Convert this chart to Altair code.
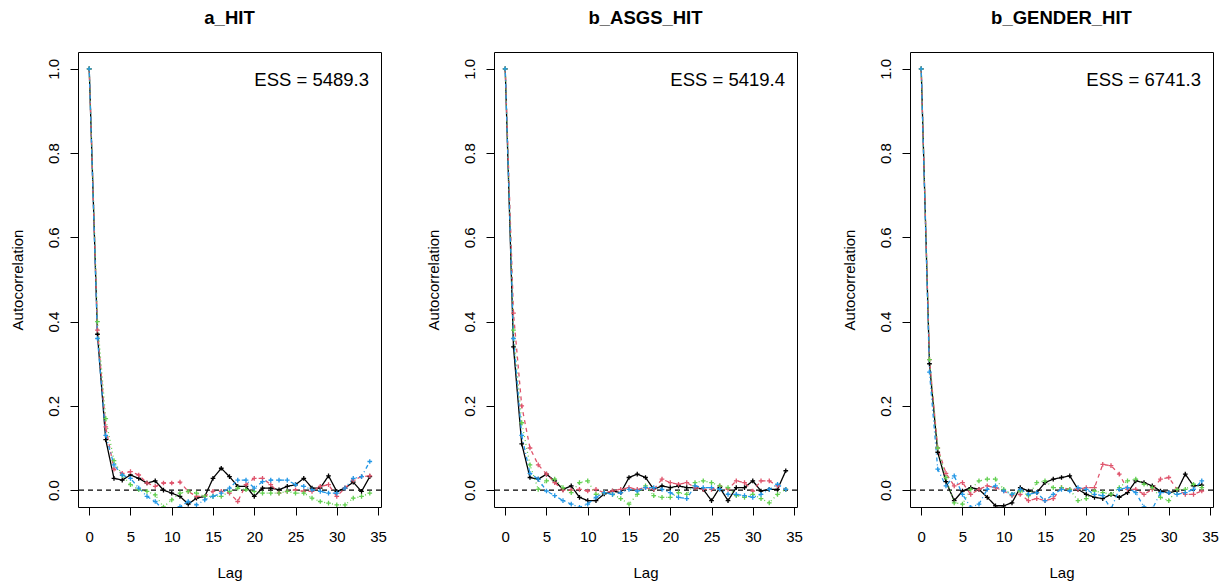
import altair as alt
import pandas as pd

F = "Liberation Sans, Arial, Helvetica, sans-serif"

lags = list(range(35))
chains = ["chain1", "chain2", "chain3", "chain4"]
chain_colors = ["#000000", "#DF536B", "#61D04F", "#2297E6"]
chain_dashes = [[1, 0], [4, 4], [1, 3], [1, 3, 4, 3]]
x_ticks = [0, 5, 10, 15, 20, 25, 30, 35]
y_ticks = [0.0, 0.2, 0.4, 0.6, 0.8, 1.0]

panel_titles = ["a_HIT", "b_ASGS_HIT", "b_GENDER_HIT"]
ess_labels = ["ESS = 5489.3", "ESS = 5419.4", "ESS = 6741.3"]

# a_HIT
a_hit_c1 = [1.0, 0.37, 0.12, 0.028, 0.024, 0.036, 0.028, 0.017, 0.022, 0.0, -0.007, -0.015, -0.033, -0.019, -0.015,
            0.028, 0.052, 0.032, 0.009, 0.009, -0.015, 0.005, 0.005, 0.001, 0.009, 0.013, 0.028, 0.005, 0.005, 0.034,
            -0.003, 0.005, 0.019, -0.003, 0.032]
a_hit_c2 = [1.0, 0.38, 0.15, 0.05, 0.04, 0.044, 0.036, 0.017, 0.009, 0.017, 0.017, 0.019, -0.003, -0.015, -0.015,
            -0.003, -0.003, -0.007, -0.027, 0.013, 0.028, 0.028, 0.013, -0.007, -0.003, 0.001, -0.003, -0.003, 0.009,
            0.013, -0.015, 0.005, 0.024, 0.032, 0.034]
a_hit_c3 = [1.0, 0.4, 0.17, 0.07, 0.035, 0.013, 0.001, -0.003, -0.011, -0.04, -0.023, -0.007, -0.003, -0.007, -0.015,
            -0.015, -0.015, -0.003, 0.005, 0.001, -0.003, -0.007, -0.007, -0.007, -0.003, -0.007, -0.007, -0.019,
            -0.027, -0.031, -0.035, -0.035, -0.019, -0.015, -0.007]
a_hit_c4 = [1.0, 0.36, 0.13, 0.06, 0.036, 0.028, 0.005, -0.015, -0.027, -0.047, -0.047, -0.039, -0.027, -0.035,
            -0.023, -0.015, -0.007, 0.005, 0.024, 0.024, 0.005, 0.02, 0.024, 0.024, 0.024, 0.013, 0.009, 0.001,
            -0.003, -0.007, -0.007, 0.005, 0.028, 0.032, 0.068]

# b_ASGS_HIT
b_asgs_c1 = [1.0, 0.34, 0.11, 0.03, 0.026, 0.038, 0.022, 0.002, 0.01, -0.017, -0.025, -0.025, -0.009, -0.002, -0.006,
             0.03, 0.038, 0.03, 0.002, 0.01, 0.006, 0.01, 0.006, 0.006, 0.002, -0.025, 0.006, -0.025, 0.006, 0.006,
             0.022, -0.002, 0.002, 0.002, 0.046]
b_asgs_c2 = [1.0, 0.42, 0.2, 0.1, 0.06, 0.038, 0.018, 0.0, 0.0, 0.002, -0.002, 0.002, -0.006, -0.002, 0.002, 0.006,
             0.002, 0.006, 0.002, 0.026, 0.018, 0.014, 0.018, 0.006, 0.002, 0.002, 0.01, 0.002, 0.022, 0.018, -0.002,
             0.022, 0.022, 0.01, 0.002]
b_asgs_c3 = [1.0, 0.38, 0.16, 0.06, 0.002, 0.022, 0.026, 0.006, -0.006, 0.018, 0.022, -0.01, -0.006, -0.01, -0.02,
             -0.033, -0.01, 0.01, -0.013, -0.017, -0.017, -0.006, -0.01, 0.018, 0.022, 0.018, 0.01, 0.006, -0.013,
             -0.017, -0.01, -0.02, -0.03, -0.01, 0.002]
b_asgs_c4 = [1.0, 0.36, 0.13, 0.04, 0.026, -0.002, -0.013, -0.025, -0.033, -0.041, -0.033, -0.017, -0.006, -0.01,
             -0.006, 0.002, -0.002, 0.006, 0.006, 0.002, -0.006, -0.017, -0.02, 0.01, 0.006, 0.006, 0.002, -0.01,
             -0.01, -0.013, -0.017, -0.01, 0.002, 0.014, 0.002]

# b_GENDER_HIT
b_gender_c1 = [1.0, 0.30, 0.09, 0.02, -0.025, -0.002, 0.006, 0.002, -0.017, -0.037, -0.037, -0.03, 0.006, -0.002,
               -0.006, 0.018, 0.026, 0.03, 0.034, 0.002, -0.01, -0.017, -0.02, -0.01, -0.017, -0.006, 0.022, 0.018,
               0.01, -0.002, -0.006, -0.002, 0.038, 0.01, 0.012]
b_gender_c2 = [1.0, 0.31, 0.1, 0.04, 0.01, 0.018, -0.01, 0.002, 0.01, 0.006, -0.002, -0.013, -0.01, -0.025, -0.02,
               -0.025, -0.02, 0.006, 0.002, 0.002, 0.006, 0.006, 0.061, 0.058, 0.038, 0.002, 0.002, -0.01, 0.002,
               0.026, 0.03, 0.002, -0.01, -0.01, -0.002]
b_gender_c3 = [1.0, 0.31, 0.1, 0.03, -0.03, -0.033, 0.002, 0.022, 0.026, 0.026, 0.002, -0.01, -0.002, -0.013, 0.018,
               0.022, 0.006, 0.006, 0.002, -0.025, -0.02, -0.002, -0.006, -0.01, 0.006, 0.022, 0.026, 0.014, 0.006,
               -0.017, -0.025, 0.002, 0.002, 0.014, 0.006]
b_gender_c4 = [1.0, 0.28, 0.05, 0.01, 0.034, -0.01, -0.041, -0.033, 0.002, 0.01, -0.002, -0.01, 0.002, -0.01, -0.006,
               -0.025, -0.01, 0.002, -0.002, 0.006, 0.002, -0.01, -0.013, -0.045, 0.002, 0.006, -0.006, -0.04, -0.045,
               -0.006, -0.006, -0.01, -0.006, 0.002, 0.022]

panel_series = [
    [a_hit_c1, a_hit_c2, a_hit_c3, a_hit_c4],
    [b_asgs_c1, b_asgs_c2, b_asgs_c3, b_asgs_c4],
    [b_gender_c1, b_gender_c2, b_gender_c3, b_gender_c4],
]

W = 303
H = 455


def make_panel(title, ess, series):
    rows = []
    for k, (chain, vals) in enumerate(zip(chains, series)):
        for lag, v in zip(lags, vals):
            rows.append({"chain": chain, "order": k, "lag": lag, "ac": v})
    df = pd.DataFrame(rows)

    xs = alt.Scale(domain=[-1.36, 35.36], nice=False, zero=False)
    ys = alt.Scale(domain=[-0.04, 1.04], nice=False, zero=False)

    x_enc = alt.X(
        "lag:Q", scale=xs,
        axis=alt.Axis(values=x_ticks, format="d", title="Lag", domain=False, grid=False,
                      tickSize=8, tickColor="black", tickWidth=1,
                      labelFont=F, labelFontSize=15, labelColor="black",
                      labelBaseline="alphabetic", labelPadding=26, labelFlush=False, labelOverlap=False,
                      titleFont=F, titleFontSize=15, titleFontWeight="normal", titleColor="black",
                      titleBaseline="alphabetic", titleY=70, titleX=W / 2),
    )
    y_enc = alt.Y(
        "ac:Q", scale=ys,
        axis=alt.Axis(values=y_ticks, format=".1f", title="Autocorrelation", domain=False, grid=False,
                      tickSize=8, tickColor="black", tickWidth=1,
                      labelFont=F, labelFontSize=15, labelColor="black",
                      labelAngle=270, labelAlign="center", labelBaseline="alphabetic",
                      labelPadding=12, labelFlush=False, labelOverlap=False,
                      titleFont=F, titleFontSize=15, titleFontWeight="normal", titleColor="black",
                      titleAngle=270, titleBaseline="alphabetic", titleX=-56, titleY=H / 2),
    )
    color = alt.Color("chain:N", scale=alt.Scale(domain=chains, range=chain_colors), legend=None)
    dash = alt.StrokeDash("chain:N", scale=alt.Scale(domain=chains, range=chain_dashes), legend=None)

    base = alt.Chart(df)
    lines = base.mark_line(strokeWidth=1.3, clip=True).encode(
        x=x_enc, y=y_enc, color=color, strokeDash=dash, order="order:Q"
    )
    points = base.mark_point(shape="M-1,0H1M0,-1V1", filled=False, size=22, strokeWidth=1.3,
                             opacity=1, clip=True).encode(
        x="lag:Q", y="ac:Q", color=color
    )
    zero = alt.Chart(pd.DataFrame({"z": [0]})).mark_rule(
        color="black", strokeDash=[5, 4], strokeWidth=1.3
    ).encode(y=alt.datum(0))
    ess_text = alt.Chart(pd.DataFrame({"t": [ess]})).mark_text(
        align="right", baseline="alphabetic", font=F, fontSize=18.5, color="black"
    ).encode(text="t:N", x=alt.value(W - 12), y=alt.value(34))

    return alt.layer(zero, lines, points, ess_text).properties(
        width=W, height=H,
        title=alt.TitleParams(text=title, font=F, fontSize=18.5, fontWeight="bold", color="black",
                              anchor="middle", baseline="alphabetic", offset=10),
    )


panels = [make_panel(t, e, s) for t, e, s in zip(panel_titles, ess_labels, panel_series)]

chart = alt.hconcat(*panels, spacing=113, bounds="flush").properties(
    padding={"left": 1, "top": 0, "right": 0, "bottom": 0},
    background="white",
).configure_view(stroke="black", strokeWidth=1)

chart.save("out.html", embed_options={"renderer": "svg", "actions": False})
